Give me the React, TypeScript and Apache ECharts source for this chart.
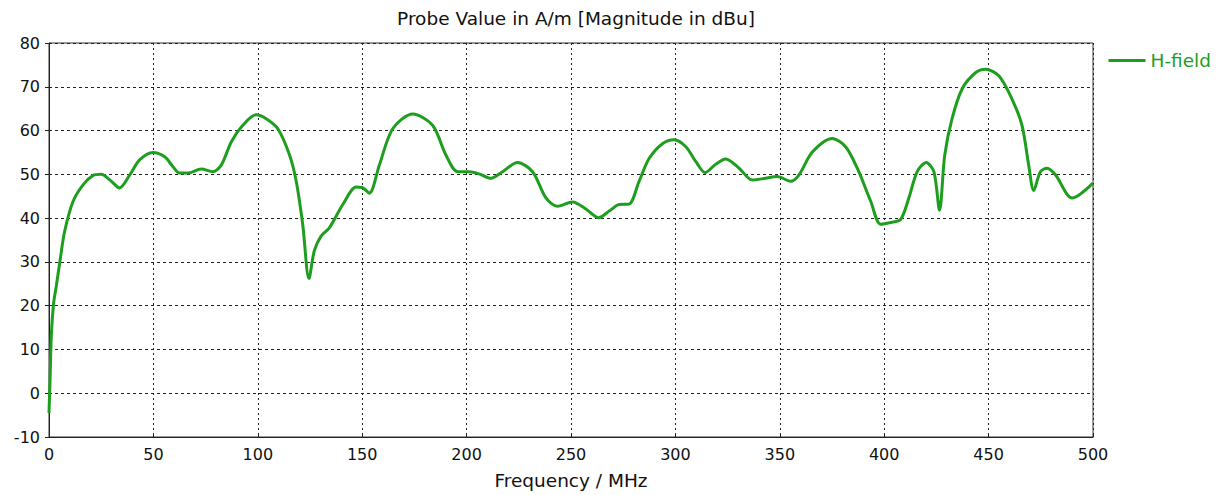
import React, { useEffect, useRef } from "react";
import * as echarts from "echarts";

// Frequency sweep (MHz) and probe magnitude (dBu)
const frequencies = [
  0, 0.5, 1.1, 2.2, 3.5, 5.5, 7.5, 11.5, 16.3, 21, 25, 29, 33.8, 38.6, 43.4, 49.8,
  55.4, 59.3, 62.5, 66.5, 72.9, 78.5, 82.5, 87.3, 92.8, 99.2, 104, 109.6, 115.2,
  118.4, 121.5, 124.5, 127.1, 130.3, 134.3, 140.7, 147.1, 150, 153.4, 158.2, 164.6,
  174.2, 183.7, 190.1, 195.7, 201.3, 206, 211.7, 217.2, 224.4, 231.6, 238, 243.5,
  250.7, 257.1, 263.2, 268.3, 273.1, 277.8, 282.6, 287.4, 293.8, 299.4, 305, 309.8,
  314.2, 319.3, 324.1, 330.5, 336.8, 343.2, 348.8, 355.2, 359.2, 365.6, 375.1, 381.5,
  387.1, 393.5, 398.3, 403.1, 407.9, 411.8, 415.8, 420.1, 423.8, 426.5, 429, 432.5,
  437.3, 443.7, 448.5, 454.9, 461.2, 466, 469.2, 471.6, 474.8, 478, 482, 490, 500,
];

const hField = [
  -4.5, 3, 13, 20.5, 24.5, 31, 37, 43.8, 47.6, 49.7, 50, 48.8, 46.9, 49.8, 53.3, 55,
  54, 51.8, 50.3, 50.3, 51.2, 50.6, 52.1, 57.4, 61.2, 63.6, 62.7, 60.4, 54.4,
  48.4, 38.6, 26.2, 32.6, 35.9, 37.8, 43.1, 47.1, 47, 45.7, 52.1, 60.4,
  63.8, 61.2, 54.4, 50.6, 50.6, 50.1, 49.1, 50.6, 52.7, 50.6, 44.6, 42.7,
  43.7, 42.1, 40.1, 41.6, 43.1, 43.2, 48.4, 53.6, 57, 57.9, 56.3, 52.9,
  50.4, 52.3, 53.5, 51.4, 48.7, 49.1, 49.5, 48.4, 49.9, 55.1, 58.2, 56.3,
  51.4, 43.9, 38.6, 39, 39.7, 44.6, 50.6, 52.7, 50.6, 41.8, 54.4, 62.7,
  69.5, 73.2, 74, 72.5, 67.2, 61.2, 52.1, 46.3, 50.6, 51.4, 49.9, 44.6, 48,
];

const titleText = "Probe Value in A/m [Magnitude in dBu]";
const xAxisTitle = "Frequency / MHz";
const seriesName = "H-field";

const FONT = "'DejaVu Sans', Verdana, sans-serif";
const GREEN = "#1e9e1e";

export default function App() {
  const ref = useRef<HTMLDivElement>(null);

  useEffect(() => {
    if (!ref.current) return;
    const chart = echarts.init(ref.current, null, { renderer: "svg" });
    chart.setOption({
      animation: false,
      backgroundColor: "#ffffff",
      title: {
        text: titleText,
        left: 571,
        top: 4,
        textAlign: "center",
        textStyle: { fontFamily: FONT, fontSize: 18.5, fontWeight: "normal", color: "#111" },
      },
      legend: {
        right: 7,
        top: 46,
        itemWidth: 37,
        itemHeight: 3,
        itemGap: 5,
        icon: "rect",
        textStyle: { fontFamily: FONT, fontSize: 18.5, color: GREEN },
        data: [seriesName],
      },
      grid: {
        left: 49,
        top: 43,
        right: 130,
        bottom: 53,
        show: true,
        borderColor: "#333",
        borderWidth: 1,
      },
      xAxis: {
        type: "value",
        min: 0,
        max: 500,
        interval: 50,
        name: xAxisTitle,
        nameLocation: "middle",
        nameGap: 34,
        nameTextStyle: { fontFamily: FONT, fontSize: 18.5, color: "#111" },
        axisLine: { onZero: false, lineStyle: { color: "#222" } },
        axisTick: { inside: true, length: 4, lineStyle: { color: "#222" } },
        axisLabel: { fontFamily: FONT, fontSize: 16, color: "#111", margin: 9 },
        splitLine: { lineStyle: { color: "#222", type: [2, 3], width: 1 } },
      },
      yAxis: {
        type: "value",
        min: -10,
        max: 80,
        interval: 10,
        axisLine: { show: true, onZero: false, lineStyle: { color: "#222" } },
        axisTick: { show: true, length: 4, lineStyle: { color: "#222" } },
        axisLabel: { fontFamily: FONT, fontSize: 16, color: "#111", margin: 9 },
        splitLine: { lineStyle: { color: "#222", type: [3, 3], width: 1 } },
      },
      series: [
        {
          name: seriesName,
          type: "line",
          data: frequencies.map((f, i) => [f, hField[i]]),
          smooth: 0.3,
          showSymbol: false,
          symbol: "none",
          lineStyle: { color: GREEN, width: 3 },
          itemStyle: { color: GREEN },
        },
      ],
    });
    return () => chart.dispose();
  }, []);

  return (
    <div
      ref={ref}
      style={{ position: "fixed", left: 0, top: 0, width: 1223, height: 495 }}
    />
  );
}
